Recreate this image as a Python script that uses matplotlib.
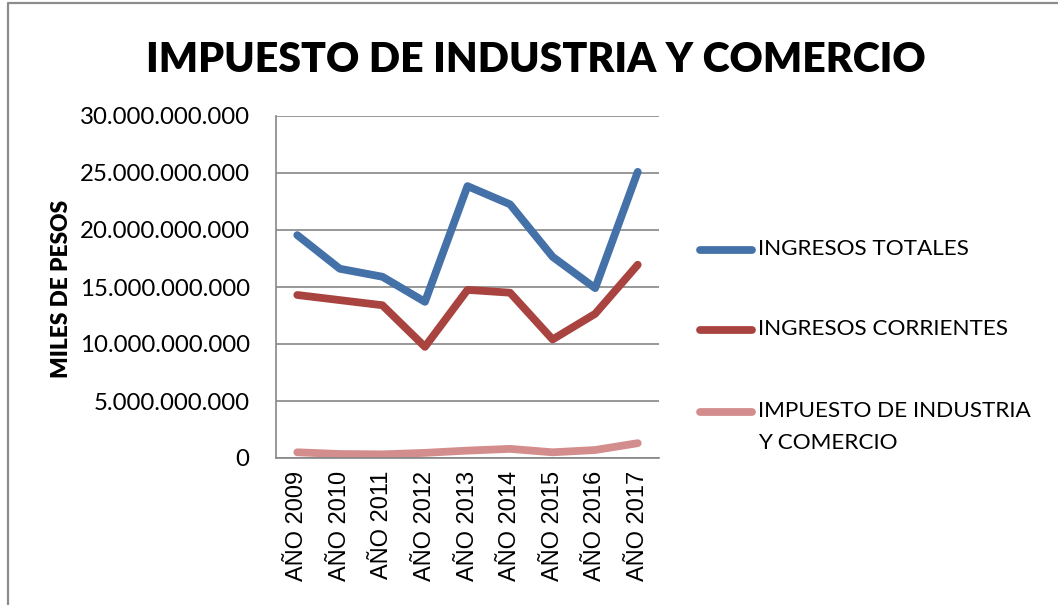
import matplotlib.pyplot as plt
from matplotlib.lines import Line2D
from matplotlib.ticker import FuncFormatter

years = ["AÑO 2009", "AÑO 2010", "AÑO 2011", "AÑO 2012", "AÑO 2013",
         "AÑO 2014", "AÑO 2015", "AÑO 2016", "AÑO 2017"]
ingresos_totales = [19.55e9, 16.6e9, 15.9e9, 13.7e9, 23.85e9, 22.25e9, 17.65e9, 14.9e9, 25.1e9]
ingresos_corrientes = [14.3e9, 13.85e9, 13.4e9, 9.75e9, 14.75e9, 14.5e9, 10.4e9, 12.65e9, 16.95e9]
impuesto_ic = [0.5e9, 0.35e9, 0.32e9, 0.45e9, 0.65e9, 0.8e9, 0.5e9, 0.7e9, 1.3e9]

series = [
    ("INGRESOS TOTALES", ingresos_totales, "#4471A8"),
    ("INGRESOS CORRIENTES", ingresos_corrientes, "#A9433F"),
    ("IMPUESTO DE INDUSTRIA\nY COMERCIO", impuesto_ic, "#D38D8C"),
]

W, H = 1058, 605
fig = plt.figure(figsize=(W / 100, H / 100), dpi=100)
ax = fig.add_axes([276 / W, 1 - 458 / H, 383 / W, 342 / H])

x = list(range(len(years)))
for label, vals, color in series:
    ax.plot(x, vals, color=color, lw=5.6, solid_capstyle="round", solid_joinstyle="round")

ax.set_xlim(-0.5, len(years) - 0.5)
ax.set_ylim(0, 30e9)
ax.set_yticks([i * 5e9 for i in range(7)])
ax.yaxis.set_major_formatter(FuncFormatter(lambda v, p: f"{int(round(v)):,}".replace(",", ".")))
ax.set_xticks(x)
ax.set_xticklabels(years, rotation=90, fontsize=17, family="Liberation Sans")
ax.tick_params(axis="x", length=0, pad=9)
ax.tick_params(axis="y", length=0, pad=19, labelsize=17.3)
for t in ax.get_yticklabels():
    t.set_family("Lato")

ax.grid(axis="y", color="#868686", lw=1.2)
ax.set_axisbelow(True)
for s in ["top", "right"]:
    ax.spines[s].set_visible(False)
for s in ["left", "bottom"]:
    ax.spines[s].set_color("#868686")
    ax.spines[s].set_linewidth(1.2)

fig.text(62 / W, 1 - 289 / H, "MILES DE PESOS", rotation=90, ha="center", va="center",
         fontsize=16.3, fontweight="heavy", family="Lato")
fig.text(536 / W, 1 - 60 / H, "IMPUESTO DE INDUSTRIA Y COMERCIO", ha="center", va="center",
         fontsize=29.5, fontweight="heavy", family="Lato")

# legend drawn by hand so the wrapped label keeps its handle on the first line
leg_y = [250, 330, 412]
for (label, vals, color), yy in zip(series, leg_y):
    fig.add_artist(Line2D([700 / W, 752 / W], [1 - yy / H, 1 - yy / H], color=color, lw=5.6,
                          solid_capstyle="round", transform=fig.transFigure))
    fig.text(758 / W, 1 - (yy - 11) / H, label, ha="left", va="top", fontsize=16.2,
             family="Lato", linespacing=1.75)

# chart border (top and left edges visible)
fig.add_artist(Line2D([8 / W, 8 / W, 1.0], [0.0, 1 - 3 / H, 1 - 3 / H], color="#8c8c8c", lw=1.6,
                      transform=fig.transFigure))

fig.savefig("out.png", dpi=100)
